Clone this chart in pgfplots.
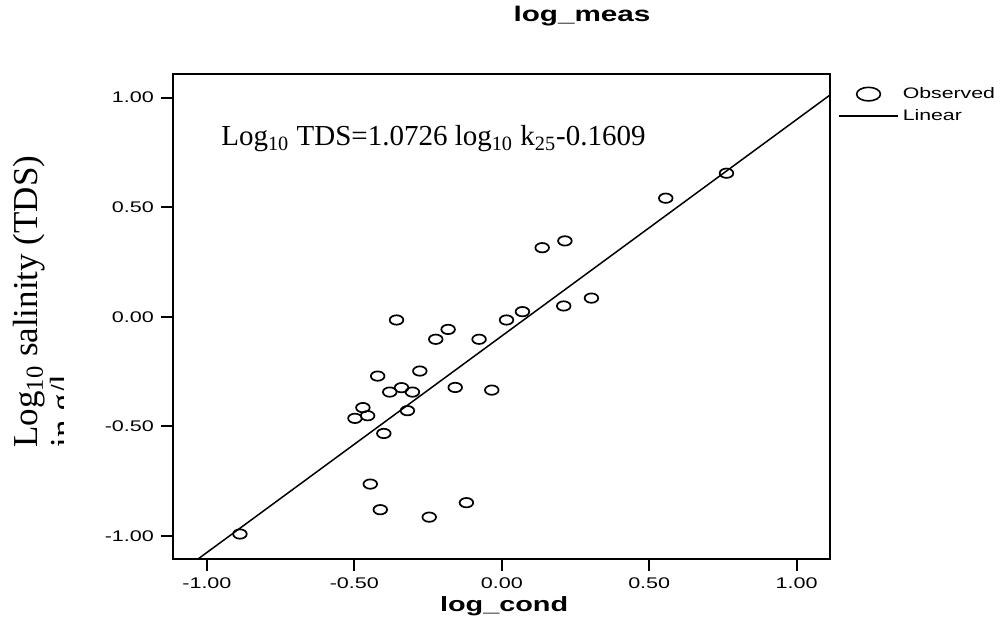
\documentclass[border=0pt]{standalone}
\usepackage{fontspec}
\usepackage{pgfplots}
\pgfplotsset{compat=1.18}
\setmainfont{Liberation Serif}
\newfontfamily\arialw[FakeStretch=1.4]{Liberation Sans}
\pgfplotsset{
  scatlegend/.style={legend image code/.code={\draw[##1, mark size=3.4pt, mark options={xscale=1.75, line width=0.8pt}] plot coordinates {(14.75pt,0pt)};}},
  linelegend/.style={legend image code/.code={\draw[##1] (0pt,0pt) -- (29.5pt,0pt);}},
}
\begin{document}
\begin{tikzpicture}
\useasboundingbox (0,0) rectangle (501.5pt,312pt);
\begin{axis}[
  at={(86.5pt,32.5pt)}, anchor=south west,
  scale only axis, width=328.5pt, height=242.5pt,
  xmin=-1.115, xmax=1.113, ymin=-1.106, ymax=1.108,
  axis line style={line width=1pt},
  tick align=outside, major tick length=6pt,
  tick style={line width=1pt, black},
  xtick={-1,-0.5,0,0.5,1}, xticklabels={-1.00,-0.50,0.00,0.50,1.00},
  ytick={-1,-0.5,0,0.5,1}, yticklabels={-1.00,-0.50,0.00,0.50,1.00},
  xtick pos=bottom, ytick pos=left,
  ticklabel style={font=\arialw\fontsize{7.7}{8}\selectfont},
  xlabel={log\_cond},
  xlabel style={font=\arialw\bfseries\fontsize{10.3}{12}\selectfont, at={(axis description cs:0.504,-0.098)}, anchor=center},
  every axis title shift=0pt,
  title={log\_meas},
  title style={font=\arialw\bfseries\fontsize{10.6}{12}\selectfont, at={(axis description cs:0.6225,1.1196)}, anchor=center},
  legend style={at={(axis description cs:1.012,0.982)}, anchor=north west, draw=none, fill=none, inner sep=0pt,
    font=\arialw\fontsize{7.6}{8}\selectfont, row sep=0pt,
    /tikz/every even column/.append style={column sep=5pt}},
  legend cell align=left,
]
\addplot[only marks, mark=o, mark size=2.35pt, black,
  mark options={xscale=1.45, line width=0.85pt, black}, scatlegend]
coordinates {
(-0.357,-0.015) (0.070,0.023) (0.016,-0.015) (-0.182,-0.058) (-0.224,-0.103)
(-0.077,-0.103) (-0.421,-0.271) (-0.278,-0.248) (-0.380,-0.344) (-0.340,-0.324)
(-0.303,-0.344) (-0.158,-0.323) (-0.034,-0.335) (-0.471,-0.415) (-0.498,-0.464)
(-0.455,-0.452) (-0.320,-0.429) (-0.400,-0.533) (-0.446,-0.764) (-0.412,-0.881)
(-0.246,-0.915) (-0.120,-0.849) (-0.888,-0.992) (0.762,0.655) (0.556,0.541)
(0.137,0.315) (0.214,0.346) (0.210,0.049) (0.304,0.085)
};
\addplot[black, line width=0.75pt, mark=none, linelegend]
coordinates {(-1.03,-1.106) (1.113,1.012)};
\legend{Observed, Linear}
\node[anchor=west, font=\fontsize{14.5}{16}\selectfont, inner sep=0pt] at (axis description cs:0.073,0.866)
  {Log\textsubscript{10} TDS=1.0726 log\textsubscript{10} k\textsubscript{25}-0.1609};
\end{axis}
\begin{scope}
\clip (0,0) rectangle (31.5pt,312pt);
\node[rotate=90, align=left, anchor=north west, font=\fontsize{17.5}{18.5}\selectfont, inner sep=0pt]
  at (6.5pt,88pt) {Log\textsubscript{10} salinity (TDS)\\in g/l};
\end{scope}
\end{tikzpicture}
\end{document}
